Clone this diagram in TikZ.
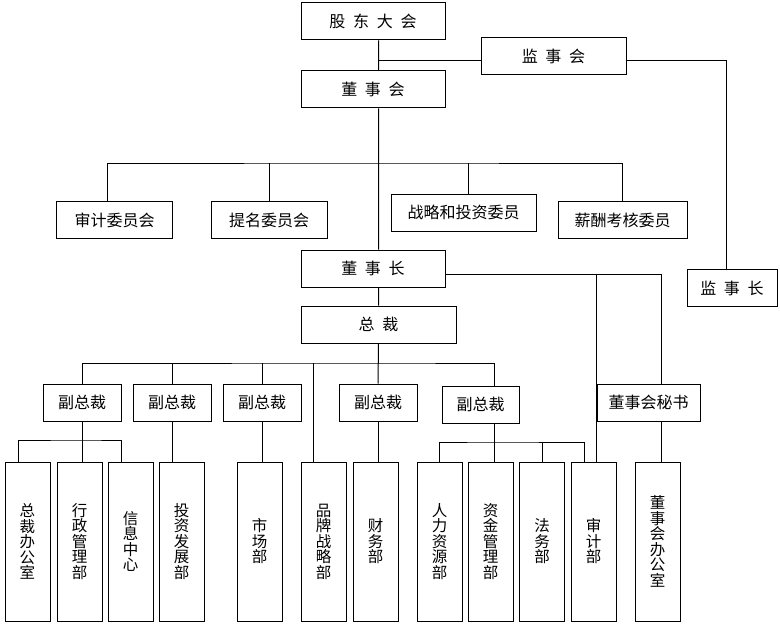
\documentclass[tikz,border=0pt]{standalone}
\usepackage{fontspec}
\setmainfont{Noto Sans CJK SC}
\newcommand{\zsp}{\hspace{0.48em}}

\begin{document}
\begin{tikzpicture}[x=1pt, y=-1pt, line width=1pt,
  box/.style={draw, minimum width=#1, minimum height=37pt, inner sep=0pt,
    font=\fontsize{16}{17}\selectfont},
  vbox/.style={draw, minimum width=45pt, minimum height=159pt, inner sep=0pt,
    align=center, font=\fontsize{15.5}{15.5}\selectfont}]
  \useasboundingbox (0,0) rectangle (780,626);

  \node[box=144pt] (gd) at (373,21.5) {股\zsp 东\zsp 大\zsp 会};
  \node[box=145pt] (jsh) at (553.5,56) {监\zsp 事\zsp 会};
  \node[box=144pt] (dsh) at (373,89.5) {董\zsp 事\zsp 会};
  \node[box=116pt] (sj) at (114.5,220) {审计委员会};
  \node[box=116pt] (tm) at (269,220) {提名委员会};
  \node[box=145pt] (zl) at (463.5,212.5) {战略和投资委员};
  \node[box=129pt] (xc) at (622.5,220) {薪酬考核委员};
  \node[box=90pt] (jsz) at (732,288) {监\zsp 事\zsp 长};
  \node[box=144pt] (dsz) at (373,268.5) {董\zsp 事\zsp 长};
  \node[box=155pt] (zc) at (378.5,324.5) {总\zsp 裁};

  \node[box=78pt] (fz1) at (82,402.5) {副总裁};
  \node[box=78pt] (fz2) at (172,402.5) {副总裁};
  \node[box=78pt] (fz3) at (262,402.5) {副总裁};
  \node[box=78pt] (fz4) at (378,402.5) {副总裁};
  \node[box=77pt] (fz5) at (480.5,404.5) {副总裁};
  \node[box=103pt] (ms) at (648.5,402.5) {董事会秘书};

  \node[vbox] (zb) at (27.5,541.5) {总\\裁\\办\\公\\室};
  \node[vbox] (xz) at (79.5,541.5) {行\\政\\管\\理\\部};
  \node[vbox] (xx) at (130.5,541.5) {信\\息\\中\\心};
  \node[vbox] (tz) at (181.5,541.5) {投\\资\\发\\展\\部};
  \node[vbox] (sc) at (259.5,541.5) {市\\场\\部};
  \node[vbox] (pp) at (323.5,541.5) {品\\牌\\战\\略\\部};
  \node[vbox] (cw) at (375.5,541.5) {财\\务\\部};
  \node[vbox] (rl) at (439.5,541.5) {人\\力\\资\\源\\部};
  \node[vbox] (zj) at (490.5,541.5) {资\\金\\管\\理\\部};
  \node[vbox] (fw) at (542,541.5) {法\\务\\部};
  \node[vbox] (sjb) at (593.5,541.5) {审\\计\\部};
  \node[vbox] (dbg) at (657.5,541.5) {董\\事\\会\\办\\公\\室};

  \coordinate (a) at (378,60.5);
  \coordinate (b) at (378,163);
  \coordinate (c) at (661,274);
  \coordinate (d) at (378,363);
  \coordinate (e) at (82,440);
  \coordinate (f) at (494,442);

  \draw (gd.south -| zc) -- (dsh.north -| zc)
        (dsh.south -| zc) -- (dsz.north -| zc)
        (dsz.south -| zc) -- (zc.north)
        (zc.south) -- (fz4.north);
  \draw (a) -- (a -| jsh.west);
  \draw (a -| jsh.east) -| ([xshift=-6pt]jsz.north);

  \draw ([xshift=-7pt]sj.north) |- (b) -| (xc.north);
  \draw (tm.north) -- (tm.north |- b);
  \draw ([xshift=4.5pt]zl.north) -- ([xshift=4.5pt]zl.north |- b);

  \draw (dsz.east |- c) -- (c) -- (c |- ms.north);
  \draw (c -| ms.west) -- (sjb.north -| ms.west);
  \draw (c |- ms.south) -- (c |- dbg.north);

  \draw (fz1.north) |- (d) -| ([xshift=13.5pt]fz5.north);
  \draw (fz2.north) -- (fz2 |- d);
  \draw (fz3.north) -- (fz3 |- d);
  \draw ([xshift=-10.5pt]pp.north) -- ([xshift=-10.5pt]pp.north |- d);

  \draw (fz1.south) -- (fz1.south |- xz.north);
  \draw ([xshift=-9.5pt]zb.north) |- (e) -| ([xshift=-9.5pt]xx.north);
  \draw (fz2.south) -- (fz2.south |- tz.north);
  \draw (fz3.south) -- (fz3.south |- sc.north);
  \draw (fz4.south) -- (fz4.south |- cw.north);

  \draw (f |- fz5.south) -- (f |- zj.north);
  \draw (rl.north) |- (f) -| ([xshift=-9.5pt]sjb.north);
  \draw (fw.north) -- (fw.north |- f);
\end{tikzpicture}
\end{document}
